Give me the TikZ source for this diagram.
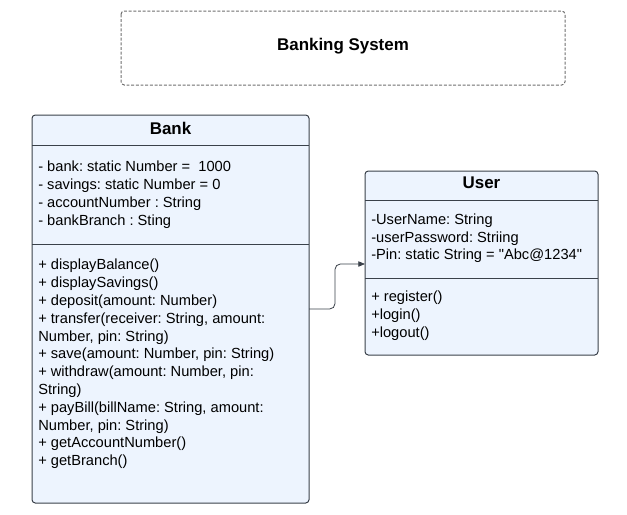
\documentclass[tikz,border=0pt]{standalone}
\usepackage{fontspec}
\setmainfont{Liberation Sans}[Ligatures=TeXOff]
\usetikzlibrary{arrows.meta}
\definecolor{classfill}{RGB}{237,244,254}
\definecolor{classline}{RGB}{58,65,74}
\definecolor{frameline}{RGB}{110,110,110}
\frenchspacing

\tikzset{
  classbox/.style={draw=classline, fill=classfill, line width=0.75pt, rounded corners=2.5pt},
  divider/.style={draw=classline, line width=0.75pt},
  systemframe/.style={draw=frameline, line width=0.75pt, dash pattern=on 2.2pt off 1.3pt, rounded corners=2.5pt},
  classname/.style={font=\fontsize{12.7}{15}\selectfont\bfseries, inner sep=0pt},
  members/.style={anchor=north west, inner sep=0pt, align=left, font=\fontsize{11}{13.35}\selectfont},
  assoc/.style={draw=classline, line width=0.6pt, rounded corners=4pt, -{Triangle[length=5pt,width=4pt]}},
}

\begin{document}
\begin{tikzpicture}[x=0.75pt,y=0.75pt,yscale=-1,xscale=1]
  \useasboundingbox (0,0) rectangle (627,514);

  % system frame
  \draw[systemframe] (121,11) rectangle (565,85);
  \node[classname] (system) at (343,46) {Banking System};

  % class Bank
  \draw[classbox] (32,115) rectangle (309,503);
  \draw[divider] (32,145) -- (309,145);
  \draw[divider] (32,244) -- (309,244);
  \node[classname] (bank) at (170.5,128) {Bank};
  \node[members] (bankattr) at (38,161) {- bank: static Number =\ \ 1000\\- savings: static Number = 0\\- accountNumber : String\\- bankBranch : Sting};
  \node[members] (bankops) at (38,259) {+ displayBalance()\\+ displaySavings()\\+ deposit(amount: Number)\\+ transfer(receiver: String, amount:\\Number, pin: String)\\+ save(amount: Number, pin: String)\\+ withdraw(amount: Number, pin:\\String)\\+ payBill(billName: String, amount:\\Number, pin: String)\\+ getAccountNumber()\\+ getBranch()};

  % class User
  \draw[classbox] (365,171) rectangle (598,355);
  \draw[divider] (365,200) -- (598,200);
  \draw[divider] (365,278) -- (598,278);
  \node[classname] (user) at (481.5,183) {User};
  \node[members] (userattr) at (371,213.5) {-UserName: String\\-userPassword: Striing\\-Pin: static String = "Abc@1234"};
  \node[members] (userops) at (371,291) {+ register()\\+login()\\+logout()};

  % association
  \coordinate (bankout) at (309,309);
  \coordinate (userin) at (365,264);
  \draw[assoc] (bankout) -- ++(26,0) |- (userin);
\end{tikzpicture}
\end{document}
